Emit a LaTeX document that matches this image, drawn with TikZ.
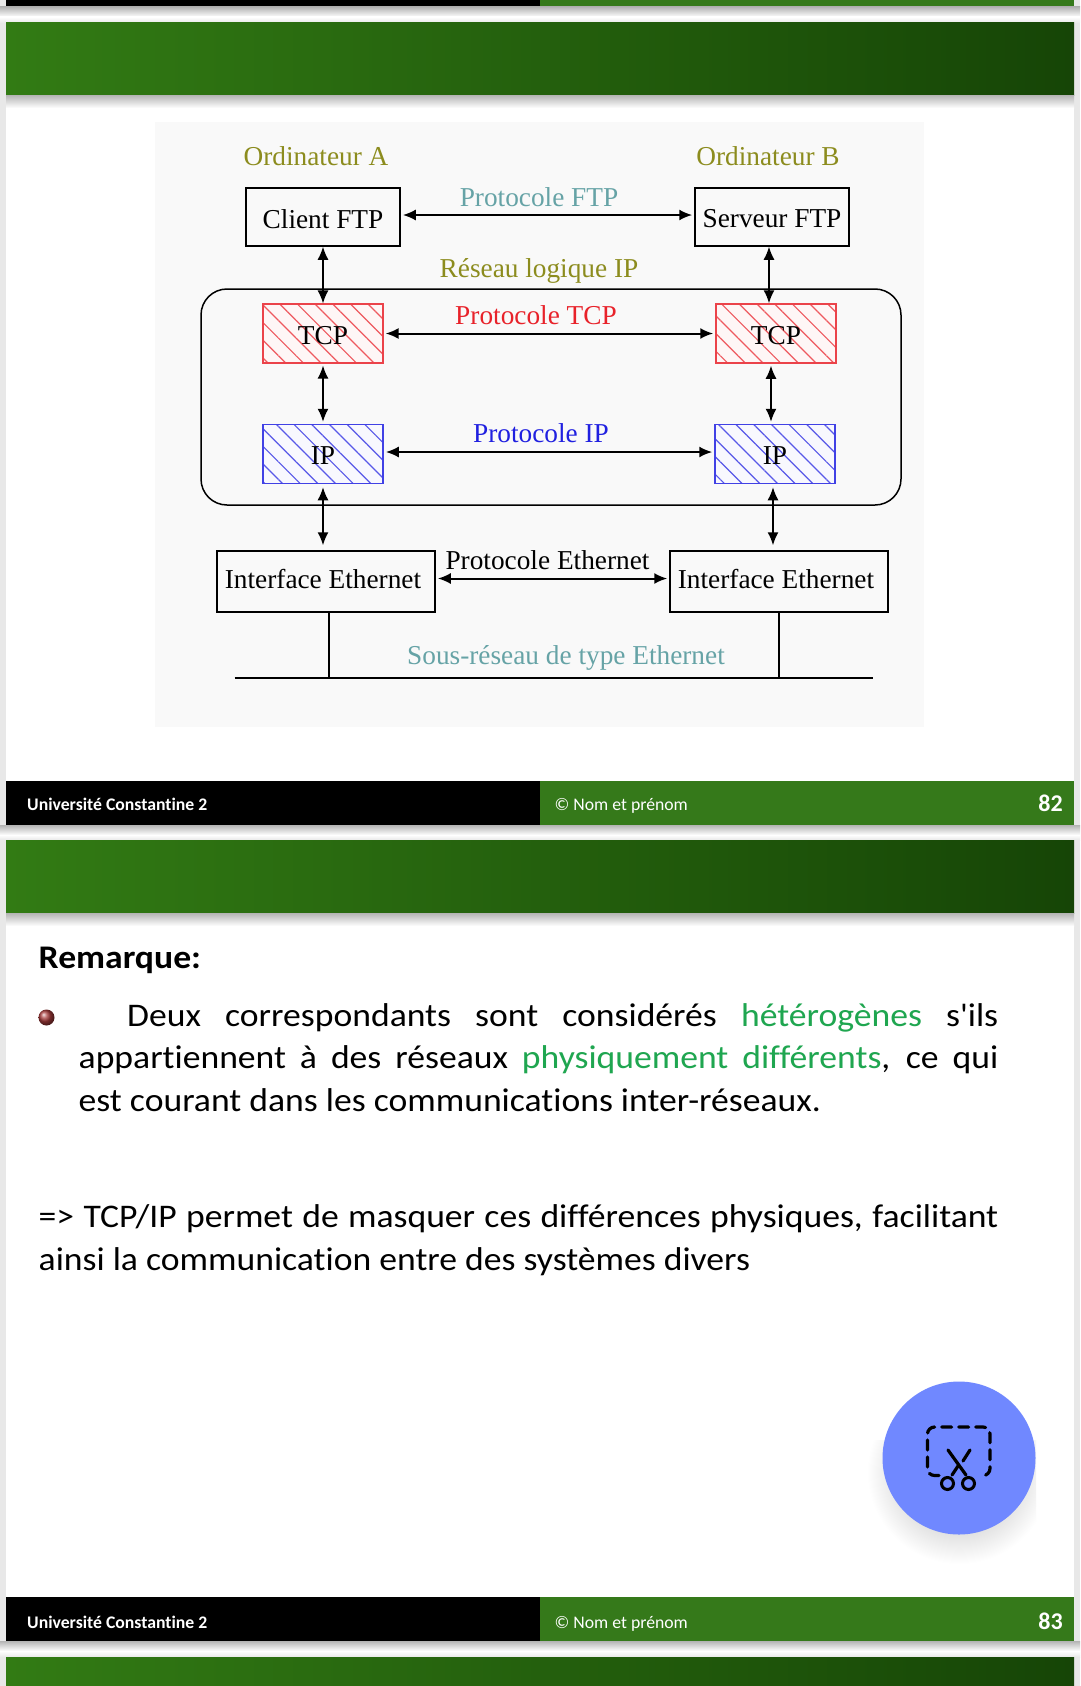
\documentclass[tikz,border=0pt]{standalone}
\usepackage{fontspec}
\setmainfont{Liberation Serif}
\newfontfamily\slidefont[Ligatures=NoCommon,FakeStretch=1.08]{Carlito}
\newfontfamily\footfont[Ligatures=NoCommon]{Carlito}
\usetikzlibrary{arrows.meta, patterns.meta, shapes.geometric}
\definecolor{slGreen}{HTML}{35791A}
\definecolor{slGreenLeft}{HTML}{327B14}
\definecolor{slGreenMid}{HTML}{266A0C}
\definecolor{slGreenDark}{HTML}{164506}
\definecolor{slEdge}{HTML}{E8E8E8}
\definecolor{slShadow}{HTML}{B4B4B4}
\definecolor{pnGray}{HTML}{F9F9F9}
\definecolor{dgOlive}{HTML}{8C8C1E}
\definecolor{dgTeal}{HTML}{66A3A6}
\definecolor{dgRed}{HTML}{E8222A}
\definecolor{dgBlue}{HTML}{2020E0}
\definecolor{txGreen}{HTML}{1FA650}
\definecolor{ballRed}{HTML}{A83C3C}
\definecolor{fabBlue}{HTML}{7088FF}
\newcommand{\nudged}[2]{\raisebox{#1}[\height][\depth]{#2}}
\tikzset{
  labeltext/.style={inner sep=0pt, font=\fontsize{27.3}{31}\selectfont},
  plainbox/.style={rectangle, draw=black, line width=1.5pt, inner sep=0pt,
    font=\fontsize{27.3}{31}\selectfont, text=black},
  hatchbox/.style={plainbox, minimum width=120pt, minimum height=59pt},
  redbox/.style={hatchbox, draw=dgRed!85, preaction={fill=dgRed!4},
    pattern={Lines[angle=-45,distance=12.5pt,line width=1.2pt]}, pattern color=dgRed!75},
  bluebox/.style={hatchbox, draw=dgBlue!85, preaction={fill=dgBlue!3},
    pattern={Lines[angle=-45,distance=12.5pt,line width=1.2pt]}, pattern color=dgBlue!75},
  linkboth/.style={{Latex[length=13pt,width=11pt]}-{Latex[length=13pt,width=11pt]},
    line width=1.5pt, shorten >=2pt, shorten <=2pt},
  linkwide/.style={linkboth, line width=2pt},
  bodytext/.style={anchor=base west, inner sep=0pt, text=black,
    font=\slidefont\fontsize{33}{40}\selectfont},
  footertext/.style={anchor=base west, inner sep=0pt, text=white,
    font=\footfont\fontsize{17.7}{22}\selectfont},
  footerbold/.style={footertext, font=\footfont\bfseries\fontsize{17.7}{22}\selectfont},
  pagenum/.style={footertext, anchor=base east, font=\footfont\bfseries\fontsize{24}{28}\selectfont},
  headbar/.style={left color=slGreenLeft, middle color=slGreenMid, right color=slGreenDark},
}
\begin{document}
\begin{tikzpicture}[x=1pt, y=-1pt]
    \useasboundingbox (0,0) rectangle (1080,1686);
    \fill[white] (0,0) rectangle (1080,1686);
    \fill[slEdge] (0,0) rectangle (6,1686);
    \fill[slEdge] (1074,0) rectangle (1080,1686);

    \fill[black] (6,0) rectangle (540,7);
    \fill[slGreen] (540,0) rectangle (1074,7);
    \shade[top color=slShadow, bottom color=white] (0,7) rectangle (1080,17);
    \shade[top color=white, bottom color=slEdge] (0,17) rectangle (1080,23);
    \shade[headbar] (6,23) rectangle (1074,95);
    \shade[top color=slShadow, bottom color=white] (6,95) rectangle (1074,108);

    \fill[pnGray] (155,122) rectangle (924,727);
    \node[labeltext, text=dgOlive] (compA) at (316,156) {Ordinateur A};
    \node[labeltext, text=dgOlive] (compB) at (768,156) {Ordinateur B};
    \node[plainbox, minimum width=154pt, minimum height=58pt] (clientFtp) at (323,217) {\nudged{-2pt}{Client FTP}};
    \node[plainbox, minimum width=154pt, minimum height=58pt] (serverFtp) at (772,217) {\nudged{-2pt}{Serveur FTP}};
    \node[labeltext, text=dgTeal] (protoFtp) at (539,197) {Protocole FTP};
    \node[labeltext, text=dgOlive] (ipNetLabel) at (539,270.5) {Réseau logique IP};
    \node[rectangle, draw=black, line width=1.5pt, rounded corners=26pt,
      minimum width=700pt, minimum height=216pt] (ipNet) at (551,397) {};
    \node[redbox] (tcpA) at (323,333.5) {\nudged{-2pt}{TCP}};
    \node[redbox] (tcpB) at (776,333.5) {\nudged{-2pt}{TCP}};
    \node[labeltext, text=dgRed] (protoTcp) at (536,315.5) {Protocole TCP};
    \node[bluebox] (ipA) at (323,454) {\nudged{-2pt}{IP}};
    \node[bluebox] (ipB) at (775,454) {\nudged{-2pt}{IP}};
    \node[labeltext, text=dgBlue] (protoIp) at (541,433.5) {Protocole IP};
    \node[plainbox, minimum width=218pt, minimum height=61pt] (ethA) at (326,581.5) {\nudged{2pt}{Interface Ethernet\hspace*{6pt}}};
    \node[plainbox, minimum width=218pt, minimum height=61pt] (ethB) at (779,581.5) {\nudged{2pt}{Interface Ethernet\hspace*{6pt}}};
    \node[labeltext, text=black] (protoEth) at (547.5,560.5) {Protocole Ethernet};
    \node[labeltext, text=dgTeal] (subnetLabel) at (566,658) {Sous-réseau de type Ethernet};
    \coordinate (busL) at (234.5,677.5);
    \coordinate (busR) at (872.5,677.5);

    \draw[linkwide] ([yshift=2pt]clientFtp.east) -- ([yshift=2pt]serverFtp.west);
    \draw[linkwide] (tcpA.east) -- (tcpB.west);
    \draw[linkwide] ([yshift=2pt]ipA.east) -- ([yshift=2pt]ipB.west);
    \draw[linkwide] ([yshift=3pt]ethA.east) -- ([yshift=3pt]ethB.west);
    \draw[linkboth, shorten <=0pt, shorten >=0pt] (clientFtp.south) -- (tcpA.north);
    \draw[linkboth, shorten <=0pt, shorten >=0pt] ([xshift=-3pt]serverFtp.south) -- ([xshift=-3pt]serverFtp.south |- tcpB.north);
    \draw[linkboth] (tcpA.south) -- (ipA.north);
    \draw[linkboth] ([xshift=-5pt]tcpB.south) -- ([xshift=-5pt]tcpB.south |- ipB.north);
    \draw[linkboth, shorten <=3pt, shorten >=5pt] (ipA.south) -- (ipA.south |- ethA.north);
    \draw[linkboth, shorten <=3pt, shorten >=5pt] ([xshift=-2pt]ipB.south) -- ([xshift=-2pt]ipB.south |- ethB.north);
    \draw[line width=2pt] (busL) -- (busR);
    \draw[line width=1.3pt] ([xshift=3pt]ethA.south) -- ([xshift=3pt]ethA.south |- busL);
    \draw[line width=1.3pt] (ethB.south) -- (ethB.south |- busR);

    \fill[black] (6,781) rectangle (540,825);
    \fill[slGreen] (540,781) rectangle (1074,825);
    \node[footerbold] (uni82) at (27,810) {Université Constantine 2};
    \node[footertext] (nom82) at (554.5,810) {© Nom et prénom};
    \node[pagenum] (page82) at (1063,811) {82};
    \shade[top color=slShadow, bottom color=white] (0,825) rectangle (1080,835);
    \shade[top color=white, bottom color=slEdge] (0,835) rectangle (1080,840);
    \shade[headbar] (6,840) rectangle (1074,913);
    \shade[top color=slShadow, bottom color=white] (6,913) rectangle (1074,926);

    \node[bodytext, font=\slidefont\bfseries\fontsize{33}{40}\selectfont] (remark) at (38.5,968) {Remarque:};
    \shade[ball color=ballRed] (46.5,1017.5) circle (8);
    \node[bodytext] (lineA) at (127,1026) {\makebox[871pt][s]{Deux correspondants sont considérés {\color{txGreen}hétérogènes} s'ils}};
    \node[bodytext] (lineB) at (78.5,1068.5) {\makebox[919.5pt][s]{appartiennent à des réseaux {\color{txGreen}physiquement différents}, ce qui}};
    \node[bodytext] (lineC) at (78.5,1111.5) {est courant dans les communications inter-réseaux.};
    \node[bodytext] (lineD) at (38.5,1227) {\makebox[959.5pt][s]{=> TCP/IP permet de masquer ces différences physiques, facilitant}};
    \node[bodytext] (lineE) at (38.5,1270) {ainsi la communication entre des systèmes divers};

    \fill[black] (6,1597) rectangle (540,1641);
    \fill[slGreen] (540,1597) rectangle (1074,1641);
    \node[footerbold] (uni83) at (27,1628) {Université Constantine 2};
    \node[footertext] (nom83) at (554.5,1628) {© Nom et prénom};
    \node[pagenum] (page83) at (1063,1629) {83};
    \shade[top color=slShadow, bottom color=white] (0,1641) rectangle (1080,1651);
    \shade[top color=white, bottom color=slEdge] (0,1651) rectangle (1080,1657);
    \shade[headbar] (6,1657) rectangle (1074,1686);

    \begin{scope}
      \clip (860,1440) rectangle (1036,1563);
      \shade[inner color=black!35, outer color=white] (959,1472) circle (92);
    \end{scope}
    \node[circle, fill=fabBlue, minimum size=153pt, inner sep=0pt] (fab) at (959,1458) {};
    \draw[line width=3.2pt, dash pattern=on 10pt off 7pt, line cap=round, rounded corners=7pt]
      (939,1475.5) -- (927.5,1475.5) -- (927.5,1427) -- (990,1427) -- (990,1475.5) -- (980,1475.5);
    \draw[line width=3.2pt, line cap=round] (948,1450) -- (966,1475);
    \draw[line width=3.2pt, line cap=round] (970,1450) -- (963,1461);
    \draw[line width=3.2pt, line cap=round] (958,1466) -- (952,1475);
    \draw[line width=3pt] (947.5,1483.5) circle (6);
    \draw[line width=3pt] (968.5,1483.5) circle (6);
  \end{tikzpicture}
\end{document}
